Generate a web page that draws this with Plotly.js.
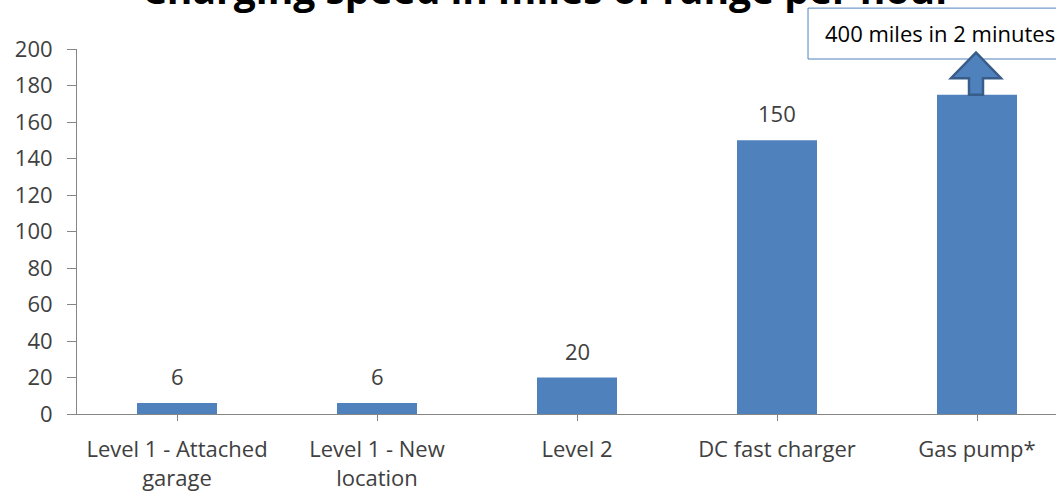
<!DOCTYPE html>
<html>
<head>
<meta charset="utf-8">
<script src="https://cdn.plot.ly/plotly-3.0.1.min.js"></script>
<style>html,body{margin:0;padding:0;background:#fff;overflow:hidden}</style>
</head>
<body>
<div id="chart" style="width:1056px;height:493px"></div>
<script>
var categories = ["Level 1 - Attached<br>garage", "Level 1 - New<br>location", "Level 2", "DC fast charger", "Gas pump*"];
var values = [6, 6, 20, 150, 175];
var dataLabels = ["6", "6", "20", "150", ""];
var titleText = "Charging speed in miles of range per hour";
var calloutText = "400 miles in 2 minutes";
var yTicks = [0, 20, 40, 60, 80, 100, 120, 140, 160, 180, 200];

var FONT = "'Open Sans', sans-serif";
var BLUE = "#4F81BD";
var DARK = "#385D8A";

var trace = {
  type: "bar",
  x: [0, 1, 2, 3, 4],
  y: values,
  width: 0.4,
  marker: {color: BLUE},
  hoverinfo: "none"
};

var annotations = [];
for (var i = 0; i < values.length; i++) {
  if (dataLabels[i]) {
    annotations.push({x: i, y: values[i], xref: "x", yref: "y", text: dataLabels[i],
      showarrow: false, yanchor: "middle", yshift: 27,
      font: {family: FONT, size: 22, color: "#404040"}});
  }
}
// title (partly cut off at top)
annotations.push({xref: "paper", yref: "paper", x: 0.481, y: 1.165, xanchor: "center", yanchor: "middle",
  text: "<b>" + titleText + "</b>", showarrow: false,
  font: {family: FONT, size: 39, color: "#000000"}});
// callout text
annotations.push({xref: "paper", yref: "paper", x: 0.762, y: 1.044, xanchor: "left", yanchor: "middle",
  text: calloutText, showarrow: false,
  font: {family: FONT, size: 22, color: "#000000"}});

var g = 4; // gas pump index
var shapes = [
  {type: "rect", xref: "paper", yref: "paper", x0: 0.7467, x1: 1.1, y0: 0.9726, y1: 1.112,
   line: {color: BLUE, width: 1}, fillcolor: "#ffffff", layer: "above"},
  {type: "path", xref: "x", yref: "y", layer: "above",
   path: "M " + (g - 0.04) + " " + values[g] +
         " L " + (g - 0.04) + " 184 L " + (g - 0.13) + " 184 L " + (g - 0.005) + " 198 L " +
         (g + 0.12) + " 184 L " + (g + 0.03) + " 184 L " + (g + 0.03) + " " + values[g] + " Z",
   fillcolor: BLUE, line: {color: DARK, width: 2.5}}
];

var layout = {
  width: 1056, height: 493,
  margin: {l: 77, r: 0, t: 49, b: 79},
  paper_bgcolor: "#ffffff", plot_bgcolor: "#ffffff",
  showlegend: false,
  font: {family: FONT, size: 22, color: "#404040"},
  xaxis: {
    range: [-0.5, 4.395],
    tickmode: "array", tickvals: [0, 1, 2, 3, 4], ticktext: categories,
    tickson: "boundaries",
    showline: true, linecolor: "#868686", linewidth: 1,
    ticks: "outside", ticklen: 6, tickcolor: "#868686",
    ticklabelstandoff: 10,
    showgrid: false, zeroline: false,
    tickfont: {family: FONT, size: 22, color: "#404040"},
    fixedrange: true
  },
  yaxis: {
    range: [0, 200],
    tickmode: "array", tickvals: yTicks,
    showline: true, linecolor: "#868686", linewidth: 1,
    ticks: "outside", ticklen: 9, tickcolor: "#868686",
    ticklabelstandoff: 10,
    showgrid: false, zeroline: false,
    tickfont: {family: FONT, size: 22, color: "#404040"},
    fixedrange: true
  },
  bargap: 0.6,
  annotations: annotations,
  shapes: shapes
};

Plotly.newPlot("chart", [trace], layout, {displayModeBar: false, staticPlot: true});
</script>
</body>
</html>
